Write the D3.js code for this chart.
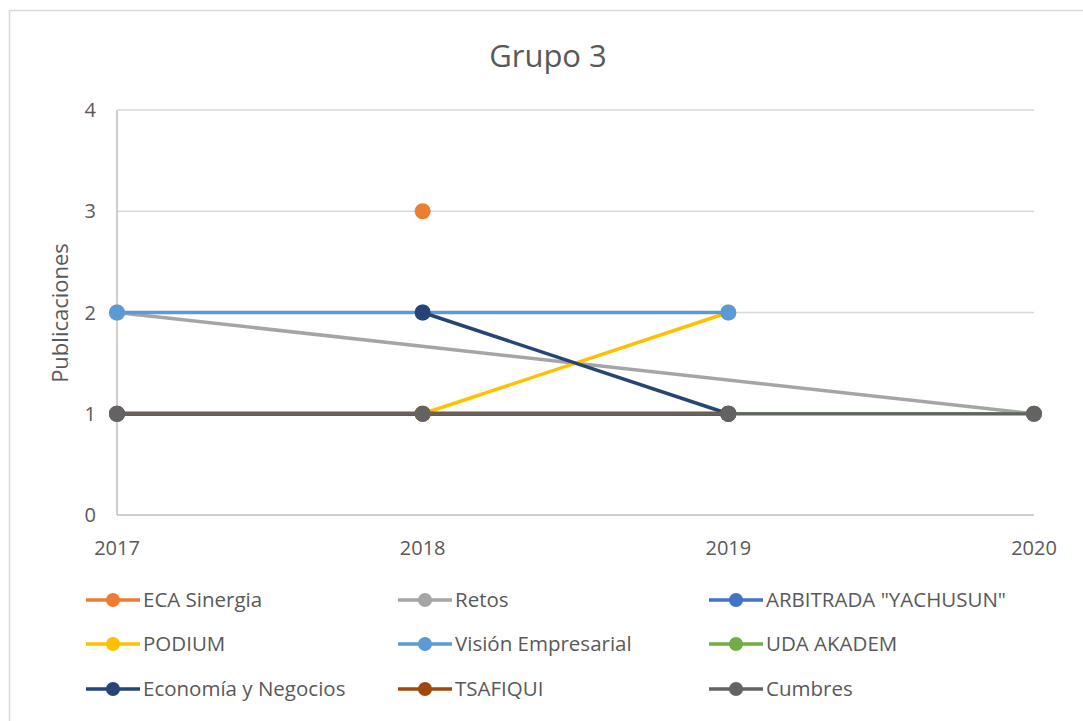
<!DOCTYPE html>
<html><head><meta charset="utf-8">
<script src="https://cdn.jsdelivr.net/npm/d3@7"></script>
<style>body{margin:0;background:#fff}svg{display:block}</style>
</head><body><svg id="c" width="1083" height="721"></svg>
<script>
const years = [2017, 2018, 2019, 2020];
const yTicks = [0, 1, 2, 3, 4];
const seriesNames = ["ECA Sinergia","Retos","ARBITRADA \"YACHUSUN\"","PODIUM","Visión Empresarial","UDA AKADEM","Economía y Negocios","TSAFIQUI","Cumbres"];
const seriesColors = ["#ED7D31","#A5A5A5","#4472C4","#FFC000","#5B9BD5","#70AD47","#264478","#9E480E","#636363"];
const ecaSinergia = [null, 3, null, null];
const retos = [2, null, null, 1];
const arbitrada = [1, null, null, null];
const podium = [null, 1, 2, null];
const visionEmpresarial = [2, 2, 2, null];
const udaAkadem = [null, null, 1, 1];
const economiaNegocios = [null, 2, 1, null];
const tsafiqui = [1, 1, 1, null];
const cumbres = [1, 1, 1, 1];
const seriesValues = [ecaSinergia, retos, arbitrada, podium, visionEmpresarial, udaAkadem, economiaNegocios, tsafiqui, cumbres];

const svg = d3.select("#c");
const font = "'Open Sans', 'Noto Sans', sans-serif";
const txt = "#595959";
svg.append("rect").attr("x",9.5).attr("y",10.5).attr("width",1090).attr("height",720)
  .attr("fill","#fff").attr("stroke","#d9d9d9").attr("stroke-width",1.5);

const x = d3.scalePoint().domain(years).range([117, 1034]);
const y = d3.scaleLinear().domain([0, 4]).range([515, 110]);

svg.append("text").attr("x",548).attr("y",67).attr("text-anchor","middle")
  .attr("font-family",font).attr("font-size",31).attr("fill",txt).text("Grupo 3");

// gridlines
svg.append("g").selectAll("line").data(yTicks.filter(d=>d>0)).join("line")
  .attr("x1",117).attr("x2",1034).attr("y1",d=>y(d)).attr("y2",d=>y(d))
  .attr("stroke","#d9d9d9").attr("stroke-width",1.5);
// axes lines
svg.append("line").attr("x1",117).attr("x2",117).attr("y1",y(4)).attr("y2",y(0)).attr("stroke","#bfbfbf").attr("stroke-width",1.5);
svg.append("line").attr("x1",117).attr("x2",1034).attr("y1",y(0)).attr("y2",y(0)).attr("stroke","#bfbfbf").attr("stroke-width",1.5);

// y tick labels
svg.append("g").selectAll("text").data(yTicks).join("text")
  .attr("x",96).attr("y",d=>y(d)+7).attr("text-anchor","end")
  .attr("font-family",font).attr("font-size",20).attr("fill",txt).text(d=>d);
// x tick labels
svg.append("g").selectAll("text").data(years).join("text")
  .attr("x",d=>x(d)).attr("y",555).attr("text-anchor","middle")
  .attr("font-family",font).attr("font-size",20).attr("fill",txt).text(d=>d);

svg.append("text").attr("transform","translate(68,313) rotate(-90)").attr("text-anchor","middle")
  .attr("font-family",font).attr("font-size",22).attr("fill",txt).text("Publicaciones");

const line = d3.line().x(d=>x(d.year)).y(d=>y(d.v));
const plot = svg.append("g");
seriesNames.forEach((name, i) => {
  const pts = years.map((yr, j) => ({year: yr, v: seriesValues[i][j]})).filter(d => d.v !== null);
  const w = name === "TSAFIQUI" ? 4.5 : (name === "Cumbres" ? 3 : 3.5);
  if (pts.length > 1) {
    plot.append("path").datum(pts).attr("d", line).attr("fill","none")
      .attr("stroke", seriesColors[i]).attr("stroke-width", w).attr("stroke-linejoin","round");
  }
  plot.append("g").selectAll("circle").data(pts).join("circle")
    .attr("cx", d=>x(d.year)).attr("cy", d=>y(d.v)).attr("r", 8).attr("fill", seriesColors[i]);
});

// legend
const colX = [86, 398, 709];
const rowY = [600, 644, 689];
const leg = svg.append("g");
seriesNames.forEach((name, i) => {
  const cx = colX[i % 3], cy = rowY[Math.floor(i / 3)];
  const g = leg.append("g");
  g.append("line").attr("x1",cx).attr("x2",cx+54).attr("y1",cy).attr("y2",cy)
    .attr("stroke",seriesColors[i]).attr("stroke-width",3.5);
  g.append("circle").attr("cx",cx+27).attr("cy",cy).attr("r",7).attr("fill",seriesColors[i]);
  g.append("text").attr("x",cx+57).attr("y",cy+7).attr("font-family",font)
    .attr("font-size",20.5).attr("fill",txt).text(name);
});
</script></body></html>
